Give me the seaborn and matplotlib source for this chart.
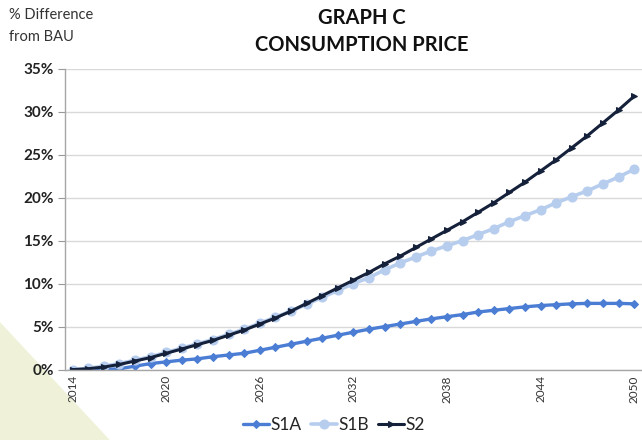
import numpy as np
import pandas as pd
import matplotlib.pyplot as plt
import seaborn as sns
from matplotlib.patches import Polygon

years = list(range(2014, 2051))
s1a = [0.0, 0.0, 0.0, 0.1, 0.4, 0.7, 0.9, 1.1, 1.25, 1.5, 1.7, 1.9, 2.25,
       2.6, 2.95, 3.3, 3.65, 4.0, 4.35, 4.7, 5.0, 5.3, 5.6, 5.9, 6.15, 6.4,
       6.7, 6.9, 7.1, 7.3, 7.45, 7.55, 7.65, 7.7, 7.7, 7.7, 7.65]
s1b = [0.0, 0.15, 0.4, 0.7, 1.1, 1.5, 2.0, 2.5, 3.0, 3.5, 4.1, 4.7, 5.4,
       6.1, 6.8, 7.6, 8.4, 9.2, 10.0, 10.7, 11.6, 12.4, 13.1, 13.8, 14.4, 15.0,
       15.7, 16.4, 17.2, 17.9, 18.6, 19.4, 20.1, 20.8, 21.6, 22.4, 23.3]
s2 = [0.0, 0.1, 0.3, 0.6, 1.0, 1.4, 1.9, 2.4, 2.9, 3.4, 4.0, 4.6, 5.3,
      6.0, 6.8, 7.7, 8.6, 9.5, 10.4, 11.3, 12.3, 13.2, 14.2, 15.2, 16.2, 17.2,
      18.3, 19.4, 20.6, 21.8, 23.1, 24.4, 25.8, 27.2, 28.7, 30.2, 31.8]
series_names = ["S1A", "S1B", "S2"]
label_years = [2014, 2020, 2026, 2032, 2038, 2044, 2050]

df = pd.DataFrame({"year": years * 3,
                   "value": s1a + s1b + s2,
                   "series": np.repeat(series_names, len(years))})

sns.set_style("white")
plt.rcParams["font.family"] = ["Lato", "DejaVu Sans"]

fig = plt.figure(figsize=(6.42, 4.40), dpi=100)
# pale triangle in the corner of the slide, behind everything
fig.patches.append(Polygon([(0, 0.268), (0.171, 0), (0, 0)], closed=True,
                           facecolor="#eff2d8", edgecolor="none",
                           transform=fig.transFigure, zorder=-5))
ax = fig.add_axes([0.101, 0.160, 0.899, 0.684])
ax.patch.set_alpha(0)

styles = {
    "S1A": dict(color="#4a7dd3", marker="D", markersize=4.5, linewidth=2.4),
    "S1B": dict(color="#b7cdee", marker="o", markersize=6.5, linewidth=2.6),
    "S2": dict(color="#15213a", marker=">", markersize=4.5, linewidth=2.2),
}
for name in series_names:
    st = styles[name]
    sns.lineplot(data=df[df.series == name], x="year", y="value", ax=ax,
                 color=st["color"], marker=st["marker"], markersize=st["markersize"],
                 markeredgecolor=st["color"], linewidth=st["linewidth"], label=name)

ax.set_xlim(2013.5, 2050.32)
ax.set_ylim(0, 35)
ax.set_yticks(range(0, 36, 5))
ax.set_yticklabels([f"{v}%" for v in range(0, 36, 5)], fontsize=11,
                   fontweight="bold", color="#222222")
ax.yaxis.grid(True, color="#d9d9d9", linewidth=1)
ax.set_axisbelow(True)

ax.set_xticks(label_years)
ax.set_xticklabels([str(y) for y in label_years], rotation=90, fontsize=8.5,
                   color="#333333")
ax.set_xticks(np.arange(2013.5, 2050.6, 1), minor=True)
ax.tick_params(axis="x", which="major", length=0, pad=4)
ax.tick_params(axis="x", which="minor", length=5, color="#999999", direction="out")
ax.tick_params(axis="y", length=5, color="#999999", direction="out", pad=3, left=True)

for s in ["top", "right"]:
    ax.spines[s].set_visible(False)
for s in ["left", "bottom"]:
    ax.spines[s].set_color("#a6a6a6")
    ax.spines[s].set_linewidth(1)
ax.set_xlabel("")
ax.set_ylabel("")

fig.text(0.564, 0.958, "GRAPH C", ha="center", va="center", fontsize=14.5,
         fontweight="bold", color="#111111")
fig.text(0.564, 0.897, "CONSUMPTION PRICE", ha="center", va="center",
         fontsize=14.5, fontweight="bold", color="#111111")
fig.text(0.014, 0.965, "% Difference", ha="left", va="center", fontsize=10.5,
         color="#333333")
fig.text(0.014, 0.915, "from BAU", ha="left", va="center", fontsize=10.5,
         color="#333333")

ax.legend(loc="center", bbox_to_anchor=(0.52, 0.034),
          bbox_transform=fig.transFigure, ncol=3, frameon=False,
          fontsize=12.5, handlelength=1.5, handletextpad=0.1, columnspacing=0.5)

fig.savefig("out.png", dpi=100)
